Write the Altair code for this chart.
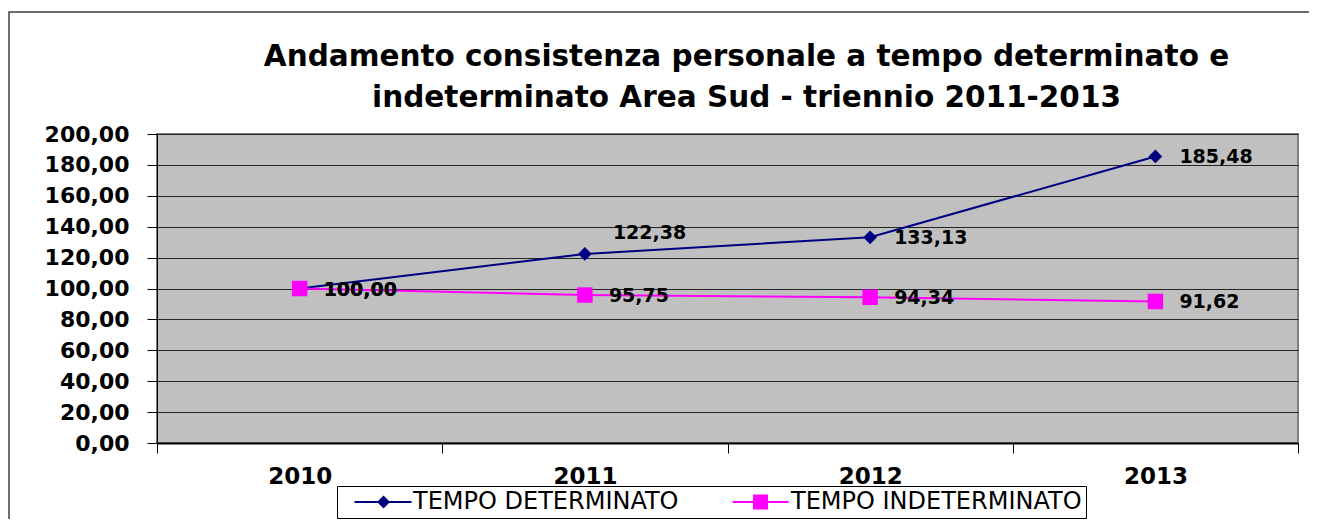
import altair as alt
import pandas as pd

# ---- data ----
years = ["2010", "2011", "2012", "2013"]
series_names = ["TEMPO DETERMINATO", "TEMPO INDETERMINATO"]
tempo_determinato = [100.00, 122.38, 133.13, 185.48]
tempo_indeterminato = [100.00, 95.75, 94.34, 91.62]
y_ticks = [0, 20, 40, 60, 80, 100, 120, 140, 160, 180, 200]
title_lines = [
    "Andamento consistenza personale a tempo determinato e",
    "indeterminato Area Sud - triennio 2011-2013",
]

# ---- styles ----
NAVY = "#000080"
MAGENTA = "#FF00FF"
FONT = "DejaVu Sans"

rows = []
for s, vals in zip(series_names, [tempo_determinato, tempo_indeterminato]):
    for yr, v in zip(years, vals):
        rows.append({"year": yr, "series": s, "value": v})
df = pd.DataFrame(rows)

base = alt.Chart(df).transform_calculate(
    label="replace(format(datum.value, '.2f'), '.', ',')"
)

x = alt.X(
    "year:N",
    sort=years,
    bandPosition=0.5,
    scale=alt.Scale(type="band", paddingInner=0, paddingOuter=0),
    axis=alt.Axis(
        title=None, labelAngle=0, tickBand="extent", tickSize=10, labelPadding=12,
        labelFont=FONT, labelFontSize=23, labelFontWeight="bold", labelColor="black",
        domainColor="black", domainWidth=2, tickColor="black", tickWidth=1, grid=False,
    ),
)
y = alt.Y(
    "value:Q",
    scale=alt.Scale(domain=[0, 200], nice=False),
    axis=alt.Axis(
        title=None, values=y_ticks,
        labelExpr="replace(format(datum.value, '.2f'), '.', ',')",
        tickSize=10, labelPadding=18, labelFont=FONT, labelFontSize=22,
        labelFontWeight="bold", labelColor="black",
        domainColor="black", domainWidth=1, tickColor="black", tickWidth=1,
        grid=True, gridColor="#262626", gridWidth=1, gridOpacity=1,
    ),
)

is_det = f"datum.series == '{series_names[0]}'"
is_ind = f"datum.series == '{series_names[1]}'"

line_det = base.transform_filter(is_det).mark_line(color=NAVY, strokeWidth=2).encode(x=x, y=y)
line_ind = base.transform_filter(is_ind).mark_line(color=MAGENTA, strokeWidth=2).encode(x=x, y=y)

pts_det = base.transform_filter(is_det).mark_point(
    shape="diamond", filled=True, size=190, color=NAVY, opacity=1
).encode(x=x, y=y)
pts_ind = base.transform_filter(is_ind).mark_point(
    shape="square", filled=True, size=240, color=MAGENTA, opacity=1
).encode(x=x, y=y)

special = f"{is_det} && datum.year == '{years[1]}'"
labels = base.transform_filter(f"!({special})").mark_text(
    align="left", baseline="middle", dx=24, dy=1,
    font=FONT, fontSize=19, fontWeight="bold", color="black",
).encode(x=x, y=y, text="label:N")
label_hi = base.transform_filter(special).mark_text(
    align="left", baseline="middle", dx=28, dy=-21,
    font=FONT, fontSize=19, fontWeight="bold", color="black",
).encode(x=x, y=y, text="label:N")

# legend symbols: line + marker drawn as one filled path
path_det = "M0.22,-0.16L8.36,-0.16L8.36,0.16L0.22,0.16Z M4.36,-0.93L5.29,0L4.36,0.93L3.43,0Z"
path_ind = "M0.22,-0.16L8.22,-0.16L8.22,0.16L0.22,0.16Z M3.15,-1.07L5.29,-1.07L5.29,1.07L3.15,1.07Z"

legend = alt.Legend(
    title=None, orient="none", legendX=180, legendY=352, direction="horizontal",
    strokeColor="black", fillColor="white", padding=4,
    labelFont=FONT, labelFontSize=24, labelColor="black", labelLimit=600,
    labelOffset=48, columnPadding=40, symbolSize=196, symbolStrokeWidth=0,
    symbolOpacity=1,
)
legend_layer = base.transform_filter("false").mark_point(filled=True).encode(
    x=x, y=y,
    color=alt.Color("series:N", scale=alt.Scale(domain=series_names, range=[NAVY, MAGENTA]), legend=legend),
    shape=alt.Shape("series:N", scale=alt.Scale(domain=series_names, range=[path_det, path_ind]), legend=legend),
)

frame = alt.Chart(pd.DataFrame({"k": [0]})).mark_rect(
    fillOpacity=0, stroke="#404040", strokeWidth=1.5, clip=False
).encode(x=alt.value(-148), x2=alt.value(1170), y=alt.value(-122), y2=alt.value(420))

chart = alt.layer(
    frame, line_det, line_ind, pts_det, pts_ind, labels, label_hi, legend_layer
).properties(
    width=1141,
    height=309,
    title=alt.TitleParams(
        text=title_lines, font=FONT, fontSize=29.5, fontWeight="bold", color="black",
        anchor="middle", dx=19, dy=131, lineHeight=41, offset=0, baseline="bottom",
    ),
    autosize=alt.AutoSizeParams(type="none"),
    padding={"left": 149, "top": 126, "right": 11, "bottom": 76},
).configure(
    background="white",
).configure_view(
    fill="#C0C0C0", stroke="#808080", strokeWidth=2,
)

chart.save("out.html", embed_options={"renderer": "svg", "actions": False})
